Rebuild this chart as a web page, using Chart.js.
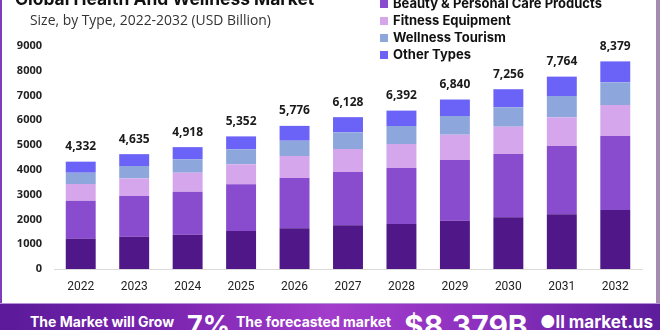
<!DOCTYPE html>
<html><head><meta charset="utf-8">
<script src="https://cdn.jsdelivr.net/npm/chart.js@4.4.0/dist/chart.umd.min.js"></script>
<style>
html,body{margin:0;padding:0;width:660px;height:330px;overflow:hidden;background:#fff;}
#wrap{position:relative;width:660px;height:330px;overflow:hidden;background:#fff;}
#c{position:absolute;left:0;top:0;}
#title{position:absolute;left:15px;top:-12px;font:bold 17.4px Inter,"Open Sans",sans-serif;color:#111;white-space:nowrap;}
#subtitle{position:absolute;left:30px;top:10px;font:13.9px "Open Sans",sans-serif;color:#333;white-space:nowrap;}
#legend{position:absolute;left:380px;top:-22px;font:bold 13px Inter,"Open Sans",sans-serif;color:#111;}
#legend .it{height:17px;line-height:17px;white-space:nowrap;display:flex;align-items:center;}
#legend .sw{width:8px;height:8px;margin-right:5px;display:inline-block;}
#lstripe{position:absolute;left:0;top:0;width:2px;height:303px;background:#7d3dba;}
#rstripe{position:absolute;right:0;top:0;width:4px;height:303px;background:#a58bb0;}
#banner{position:absolute;left:0;top:303px;width:660px;height:27px;
 background:linear-gradient(90deg,#5a1a99 0%,#7a24b0 25%,#a23ccb 50%,#8e31c0 72%,#5d1d9c 100%);
 border-top:1px solid #b98fd6;}
.bt{position:absolute;color:#fff;font-weight:bold;white-space:nowrap;font-family:Inter,"Open Sans",sans-serif;}
</style></head><body>
<div id="wrap">
<canvas id="c" width="660" height="303"></canvas>
<div id="lstripe"></div><div id="rstripe"></div>
<div id="title">Global Health And Wellness Market</div>
<div id="subtitle">Size, by Type, 2022-2032 (USD Billion)</div>
<div id="legend"></div>
<div id="banner">
 <div class="bt" style="left:30px;top:9px;font-size:14px;">The Market will Grow</div>
 <div class="bt" style="left:187px;top:5px;font-size:27px;">7%</div>
 <div class="bt" style="left:236px;top:9px;font-size:14px;">The forecasted market</div>
 <div class="bt" style="left:404px;top:4px;font-size:30px;">$8,379B</div>
 <div class="bt" style="left:540px;top:8px;font-size:17px;">●ll market.us</div>
</div>
</div>
<script>
const years = ['2022','2023','2024','2025','2026','2027','2028','2029','2030','2031','2032'];
const seriesNames = ['Nutrition & Weight Loss','Beauty & Personal Care Products','Fitness Equipment','Wellness Tourism','Other Types'];
const nutrition = [1223,1304,1384,1533,1642,1763,1816,1950,2086,2207,2381];
const beauty    = [1533,1642,1736,1885,2030,2151,2260,2449,2555,2757,2986];
const fitness   = [674,714,766,807,888,929,968,1021,1102,1158,1251];
const wellness  = [456,497,541,605,618,674,727,754,782,859,916];
const other     = [446,478,491,522,598,611,621,666,731,783,845];
const totals    = [4332,4635,4918,5352,5776,6128,6392,6840,7256,7764,8379];
const colors = ['#4f1787','#8a4ccf','#d5a6eb','#8da6db','#6b62f7'];
const values = [nutrition,beauty,fitness,wellness,other];

const leg = document.getElementById('legend');
seriesNames.forEach((n,i)=>{
  const d=document.createElement('div');d.className='it';
  d.innerHTML='<span class="sw" style="background:'+colors[i]+'"></span>'+n.replace(/&/g,'&amp;');
  leg.appendChild(d);
});

const totalsPlugin = {
  id:'totals',
  afterDatasetsDraw(chart){
    const ctx=chart.ctx;
    const meta=chart.getDatasetMeta(chart.data.datasets.length-1);
    ctx.save();
    ctx.font='bold 12px "Open Sans", sans-serif';
    ctx.fillStyle='#1a1a1a';
    ctx.textAlign='center';
    ctx.textBaseline='alphabetic';
    meta.data.forEach((bar,i)=>{
      ctx.fillText(totals[i].toLocaleString('en-US'), bar.x, bar.y-11.5);
    });
    ctx.restore();
  }
};

new Chart(document.getElementById('c'),{
  type:'bar',
  data:{
    labels:years,
    datasets:seriesNames.map((n,i)=>({label:n,data:values[i],backgroundColor:colors[i],borderWidth:0,
      categoryPercentage:0.8,barPercentage:0.7}))
  },
  options:{
    responsive:false,animation:false,
    layout:{padding:{left:0,top:46,right:18,bottom:6}},
    plugins:{legend:{display:false},tooltip:{enabled:false}},
    scales:{
      x:{stacked:true,
        grid:{display:false,drawTicks:false},
        border:{display:true,color:'#d9d9d9',width:1},
        ticks:{padding:11,color:'#222',font:{family:'"Liberation Sans Narrow", Roboto, sans-serif',size:12}},
        afterFit:(s)=>{s.height=28;}
      },
      y:{stacked:true,min:0,max:9000,
        grid:{display:false,drawTicks:false},
        border:{display:false},
        ticks:{stepSize:1000,padding:12,color:'#222',font:{family:'"Open Sans", sans-serif',size:11,weight:'bold'},
          callback:(v)=>String(v)},
        afterFit:(s)=>{s.width=54;}
      }
    }
  },
  plugins:[totalsPlugin]
});
</script>
</body></html>
